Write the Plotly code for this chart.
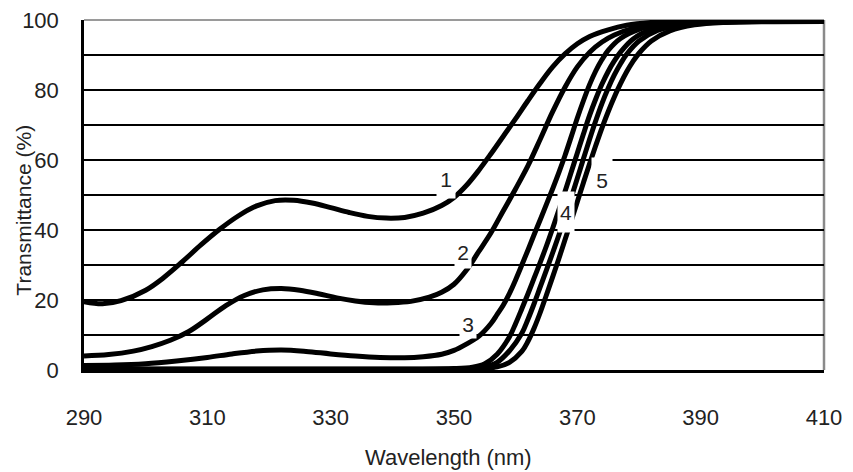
import plotly.graph_objects as go

# ---- data ----
wl_1 = [290, 293, 296, 300, 303, 306, 309, 312, 315, 318, 321, 324, 327, 330, 333, 336, 339, 342, 345, 348,
        350, 352, 354, 356, 358, 360, 362, 364, 366, 368, 370, 372, 375, 378, 382, 386, 390, 400, 410]
t_1 = [19.5, 18.9, 19.8, 22.8, 26.5, 31.0, 35.8, 40.2, 44.0, 46.9, 48.4, 48.5, 47.7, 46.4, 45.0, 43.9, 43.4, 43.6, 44.8, 47.0,
       49.3, 52.7, 57.0, 61.8, 66.8, 71.8, 77.0, 82.0, 86.6, 90.3, 93.2, 95.3, 97.2, 98.5, 99.3, 99.6, 99.6, 99.6, 99.6]

wl_2 = [290, 294, 298, 301, 304, 307, 310, 313, 316, 319, 322, 325, 328, 331, 334, 337, 340, 343, 346, 348,
        350, 352, 354, 356, 358, 360, 362, 364, 366, 368, 370, 372, 374, 376, 379, 383, 387, 392, 410]
t_2 = [4.0, 4.4, 5.4, 6.7, 8.5, 11.0, 14.6, 18.4, 21.3, 22.9, 23.3, 22.8, 21.8, 20.6, 19.7, 19.2, 19.2, 19.6, 20.8, 22.2,
       24.5, 28.5, 33.8, 39.2, 45.5, 51.8, 58.4, 66.0, 73.8, 80.8, 86.6, 90.8, 93.7, 95.7, 97.6, 98.9, 99.4, 99.6, 99.6]

wl_3 = [290, 295, 300, 305, 310, 314, 318, 322, 326, 330, 334, 338, 342, 345, 348, 350, 352, 354, 356, 357,
        358, 359, 360, 361, 362, 363, 364, 365, 366, 367, 368, 369, 370, 371, 372, 373, 374, 375, 377, 380,
        384, 389, 395, 410]
t_3 = [1.3, 1.4, 1.8, 2.6, 3.6, 4.6, 5.4, 5.7, 5.3, 4.6, 4.0, 3.6, 3.5, 3.8, 4.5, 5.6, 7.4, 9.6, 13.3, 15.9,
       18.6, 21.9, 25.8, 30.0, 34.3, 38.7, 43.0, 47.4, 51.8, 56.4, 61.3, 66.6, 72.0, 77.0, 81.6, 85.5, 88.7, 91.3, 94.7, 97.3,
       98.9, 99.4, 99.6, 99.6]

wl_4a = [290, 340, 350, 353, 355, 357, 359, 360, 361, 362, 363, 364, 365, 366, 367, 368, 369, 370, 371, 372,
         373, 374, 375, 376, 377, 379, 382, 386, 391, 400, 410]
t_4a = [0.3, 0.3, 0.4, 0.8, 1.8, 4.5, 9.5, 13.3, 17.5, 21.8, 26.3, 30.8, 35.5, 40.5, 45.7, 51.0, 56.5, 62.0, 67.5, 72.8,
        77.5, 81.7, 85.3, 88.3, 90.8, 94.5, 97.3, 98.9, 99.4, 99.6, 99.6]

wl_4b = [290, 345, 352, 355, 357, 359, 361, 362, 363, 364, 365, 366, 367, 368, 369, 370, 371, 372, 373, 374,
         375, 376, 377, 378, 380, 383, 387, 392, 400, 410]
t_4b = [0.2, 0.2, 0.4, 0.9, 2.2, 5.5, 10.5, 14.5, 19.0, 23.8, 28.6, 33.5, 38.5, 43.8, 49.2, 54.8, 60.4, 66.0, 71.3, 76.2,
        80.5, 84.3, 87.5, 90.2, 94.0, 97.0, 98.7, 99.3, 99.6, 99.6]

wl_5 = [290, 348, 354, 357, 359, 361, 362, 363, 364, 365, 366, 367, 368, 369, 370, 371, 372, 373, 374, 375,
        376, 377, 378, 379, 380, 382, 385, 389, 394, 402, 410]
t_5 = [0.1, 0.1, 0.3, 0.9, 2.2, 5.3, 8.2, 12.0, 16.5, 21.5, 26.6, 31.8, 37.2, 42.6, 48.1, 53.6, 59.0, 64.2, 69.2, 73.8,
       78.0, 81.8, 85.2, 88.1, 90.5, 94.0, 96.9, 98.6, 99.3, 99.5, 99.6]

x_ticks = [290, 310, 330, 350, 370, 390, 410]
y_ticks = [0, 20, 40, 60, 80, 100]

curve_labels = ["1", "2", "3", "4", "5"]
label_wl = [348.7, 351.5, 352.3, 368.2, 374.0]
label_t = [53.4, 33.7, 13.1, 45.1, 55.7]
label_h = [30, 32, 28, 40, 34]
label_w = [18, 16, 16, 16, 20]
label_valign = ["top", "middle", "middle", "middle", "bottom"]

FONT = "Liberation Sans, Arial, sans-serif"

fig = go.Figure()
for wl, t in [(wl_1, t_1), (wl_2, t_2), (wl_3, t_3), (wl_4a, t_4a), (wl_4b, t_4b), (wl_5, t_5)]:
    fig.add_trace(go.Scatter(x=wl, y=t, mode="lines",
                             line=dict(color="black", width=5, shape="spline", smoothing=1.0),
                             showlegend=False, hoverinfo="skip"))

for txt, lx, ly, h, w, va in zip(curve_labels, label_wl, label_t, label_h, label_w, label_valign):
    fig.add_annotation(x=lx, y=ly, xref="x", yref="y", text=txt, showarrow=False,
                       bgcolor="white", height=h, width=w, valign=va, borderpad=0,
                       font=dict(family=FONT, size=21, color="#222222"))

# gray top / right frame
fig.add_shape(type="line", xref="paper", yref="paper", x0=0, x1=1, y0=1, y1=1,
              line=dict(color="#9a9a9a", width=2), layer="between")
fig.add_shape(type="line", xref="paper", yref="paper", x0=1, x1=1, y0=0, y1=1,
              line=dict(color="#8a8a8a", width=2.5), layer="between")

# axis titles
fig.add_annotation(x=0.493, y=-0.249, xref="paper", yref="paper", text="Wavelength (nm)",
                   showarrow=False, xanchor="center", yanchor="middle",
                   font=dict(family=FONT, size=22, color="#222222"))
fig.add_annotation(x=-0.083, y=0.457, xref="paper", yref="paper", text="Transmittance (%)",
                   showarrow=False, textangle=-90, xanchor="center", yanchor="middle",
                   font=dict(family=FONT, size=21, color="#222222"))

fig.update_xaxes(range=[290, 410], tickvals=x_ticks, showgrid=False, zeroline=False,
                 showline=True, linecolor="black", linewidth=2.5, ticks="",
                 ticklabelstandoff=26, automargin=False,
                 tickfont=dict(family=FONT, size=22, color="#222222"))
fig.update_yaxes(range=[0, 100], tickvals=y_ticks, showgrid=True, gridcolor="black", gridwidth=1.6,
                 zeroline=False, showline=True, linecolor="black", linewidth=2.5, ticks="",
                 ticklabelstandoff=18, automargin=False,
                 minor=dict(dtick=10, tick0=0, showgrid=True, gridcolor="black", gridwidth=1.6),
                 tickfont=dict(family=FONT, size=22, color="#222222"))

fig.update_layout(width=853, height=472, margin=dict(l=84, r=29, t=20, b=102, autoexpand=False),
                  plot_bgcolor="white", paper_bgcolor="white")

fig.write_html("out.html", config={"displayModeBar": False},
               post_script="document.body.style.margin='0';document.body.style.overflow='hidden';")
